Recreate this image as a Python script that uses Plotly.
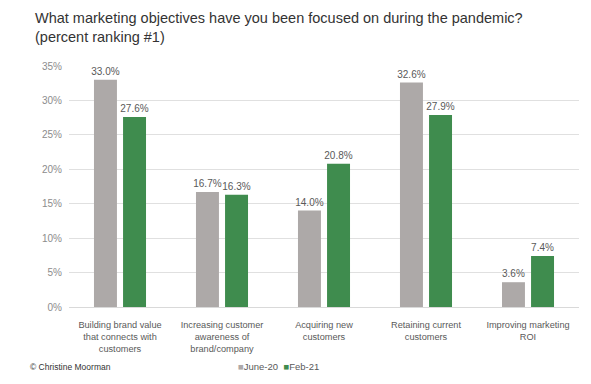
import plotly.graph_objects as go

categories = [
    "Building brand value<br>that connects with<br>customers",
    "Increasing customer<br>awareness of<br>brand/company",
    "Acquiring new<br>customers",
    "Retaining current<br>customers",
    "Improving marketing<br>ROI",
]
series_names = ["June-20", "Feb-21"]
june20 = [33.0, 16.7, 14.0, 32.6, 3.6]
feb21 = [27.6, 16.3, 20.8, 27.9, 7.4]
yticks = [0, 5, 10, 15, 20, 25, 30, 35]

FONT = "Liberation Sans, Arial, sans-serif"
GRAY = "#ADA9A8"
GREEN = "#3F8C4E"

fig = go.Figure()
for name, vals, col in [(series_names[0], june20, GRAY), (series_names[1], feb21, GREEN)]:
    fig.add_trace(go.Bar(
        name=name, x=categories, y=vals,
        marker=dict(color=col, line=dict(width=0)),
        text=[f"{v:.1f}%" for v in vals], textposition="outside",
        constraintext="none",
        textfont=dict(size=10, color="#595959", family=FONT), cliponaxis=False,
    ))

# page body has a default 8px margin; compensate so the plot area lands at the reference position
fig.update_layout(
    width=591, height=384,
    margin=dict(l=61, r=20, t=58, b=85, autoexpand=False),
    paper_bgcolor="white", plot_bgcolor="white",
    font=dict(family=FONT, color="#595959"),
    barmode="group", bargap=0.43, bargroupgap=0.21,
    showlegend=False,
)
fig.update_yaxes(
    range=[0, 35], tickvals=yticks, ticktext=[f"{v}%" for v in yticks],
    showgrid=True, gridcolor="#E0E0E0", gridwidth=1,
    zeroline=True, zerolinecolor="#D9D9D9", zerolinewidth=1,
    tickfont=dict(size=10, color="#8C8C8C"),
    ticks="outside", ticklen=4, tickcolor="rgba(0,0,0,0)", automargin=False,
)
fig.update_xaxes(
    showgrid=False, showline=False,
    ticks="outside", ticklen=9, tickcolor="rgba(0,0,0,0)",
    tickfont=dict(size=9.2, color="#595959"), automargin=False,
)

fig.add_annotation(
    text="What marketing objectives have you been focused on during the pandemic?<br>(percent ranking #1)",
    xref="paper", yref="paper", x=-0.071, y=1.0, xanchor="left", yanchor="bottom",
    yshift=19,
    showarrow=False, align="left", font=dict(size=14.5, color="#333333", family=FONT),
)
fig.add_annotation(
    text="© Christine Moorman",
    xref="paper", yref="paper", x=-0.08, y=-0.25, xanchor="left", yanchor="middle",
    showarrow=False, font=dict(size=8.5, color="#333333", family=FONT),
)
legend_text = (f'<span style="color:{GRAY}">■</span>{series_names[0]}  '
               f'<span style="color:{GREEN}">■</span>{series_names[1]}')
fig.add_annotation(
    text=legend_text,
    xref="paper", yref="paper", x=0.41, y=-0.245, xanchor="center", yanchor="middle",
    showarrow=False, font=dict(size=9.5, color="#595959", family=FONT),
)

fig.write_html("out.html")
